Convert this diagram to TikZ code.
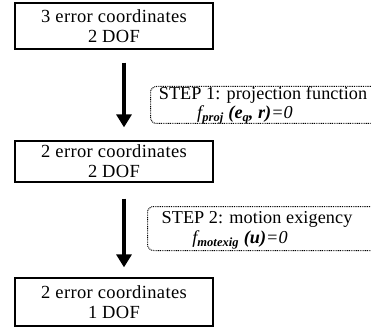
\documentclass[tikz,border=0pt]{standalone}
\usepackage{fontspec}
\setmainfont[LetterSpace=2]{Liberation Serif}
\usetikzlibrary{arrows.meta}
\tikzset{
  stage/.style={draw, line width=1.3pt, minimum width=198pt, inner sep=0pt, align=center,
    font=\fontsize{18.5}{20}\selectfont},
  stepbox/.style={draw, dash pattern=on 0.9pt off 0.9pt, line width=1pt, rounded corners=6pt, minimum width=250pt, inner sep=0pt, anchor=north west},
  steptext/.style={font=\fontsize{18.2}{20}\selectfont\addfontfeature{LetterSpace=0.5}, inner sep=0pt, anchor=base},
  bigarrow/.style={line width=3.6pt, -{Triangle[width=15pt,length=13pt]}},
}
\newcommand{\sbx}[1]{\raisebox{-3.5pt}{\fontsize{12.5}{13}\selectfont\bfseries\itshape #1}}
\begin{document}
\begin{tikzpicture}[x=1pt,y=-1pt]
\useasboundingbox (0,0) rectangle (371,331);
\clip (0,0) rectangle (371,331);
\node[stage, minimum height=46pt] (b1) at (114,26) {3 error coordinates\\2 DOF};
\node[stage, minimum height=41pt] (b2) at (114,161.5) {2 error coordinates\\2 DOF};
\node[stage, minimum height=48pt] (b3) at (114,302) {2 error coordinates\\1 DOF};
\node[stepbox, minimum height=37pt] (s1) at (150,86) {};
\node[stepbox, minimum height=44pt] (s2) at (147,206) {};
\node[steptext] (s1a) at (263,100) {STEP 1: projection function};
\node[steptext] (s1b) at (245,118) {\itshape f\sbx{proj}\;\bfseries(e\sbx{q}, r)\mdseries=0};
\node[steptext] (s2a) at (257,223) {STEP 2: motion exigency};
\node[steptext] (s2b) at (240,243) {\itshape f\sbx{motexig}\;\bfseries(u)\mdseries=0};
\draw[bigarrow] ([xshift=10pt,yshift=-13pt]b1.south) -- ([xshift=10pt,yshift=13pt]b2.north);
\draw[bigarrow] ([xshift=10pt,yshift=-16pt]b2.south) -- ([xshift=10pt,yshift=10pt]b3.north);
\end{tikzpicture}
\end{document}
